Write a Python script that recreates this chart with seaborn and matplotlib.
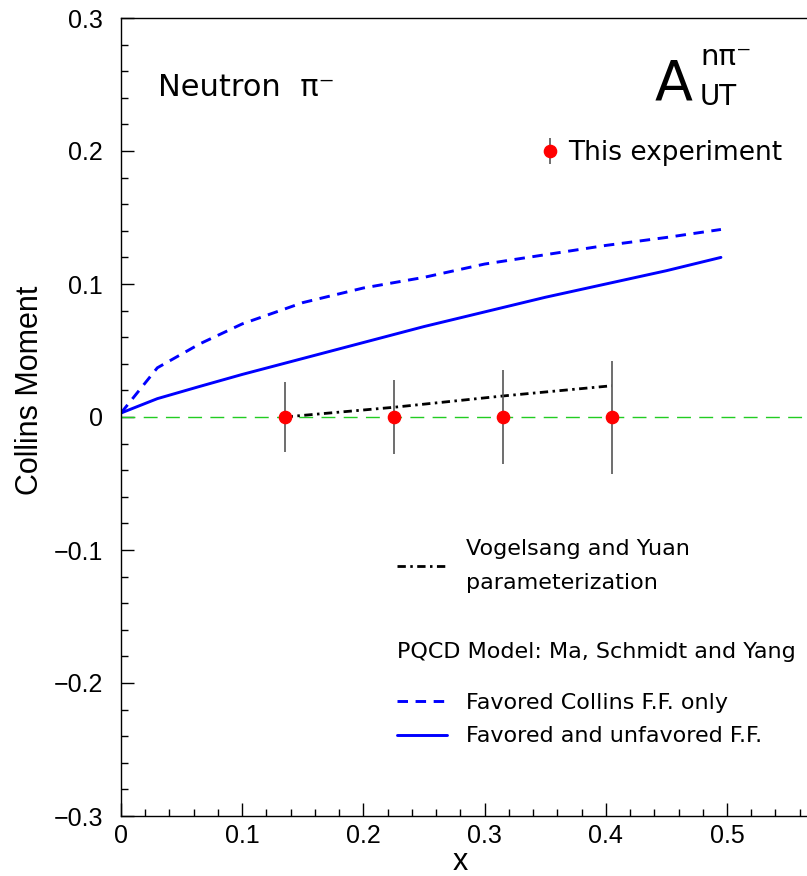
import numpy as np
import pandas as pd
import matplotlib
matplotlib.use('Agg')
import matplotlib.pyplot as plt
from matplotlib.ticker import AutoMinorLocator, FixedLocator, FixedFormatter
import seaborn as sns

# measured points (this experiment)
x_data = [0.135, 0.225, 0.315, 0.405]
y_data = [0.0, 0.0, 0.0, 0.0]
err_lo = [0.026, 0.028, 0.035, 0.043]
err_hi = [0.026, 0.028, 0.035, 0.042]

# Vogelsang and Yuan parameterization
x_vy = [0.135, 0.225, 0.315, 0.405]
y_vy = [0.0, 0.0073, 0.0158, 0.0235]

# PQCD model curves
x_model = [0.0, 0.03, 0.065, 0.1, 0.15, 0.2, 0.25, 0.3, 0.35, 0.4, 0.45, 0.495]
y_favored = [0.003, 0.037, 0.055, 0.070, 0.086, 0.097, 0.105, 0.115, 0.122, 0.129, 0.135, 0.141]
y_fav_unfav = [0.003, 0.0138, 0.023, 0.032, 0.044, 0.056, 0.068, 0.079, 0.090, 0.100, 0.110, 0.120]

y_ticks = [-0.3, -0.2, -0.1, 0, 0.1, 0.2, 0.3]
y_labels = ['\u22120.3', '\u22120.2', '\u22120.1', '0', '0.1', '0.2', '0.3']
x_ticks = [0, 0.1, 0.2, 0.3, 0.4, 0.5]
x_labels = ['0', '0.1', '0.2', '0.3', '0.4', '0.5']

sns.set_theme(style='ticks')
plt.rcParams['font.family'] = ['DejaVu Sans']
plt.rcParams['text.color'] = 'black'
plt.rcParams['axes.labelcolor'] = 'black'
plt.rcParams['xtick.color'] = 'black'
plt.rcParams['ytick.color'] = 'black'

df_model = pd.DataFrame({'x': x_model, 'fav': y_favored, 'both': y_fav_unfav})
df_vy = pd.DataFrame({'x': x_vy, 'y': y_vy})

fig = plt.figure(figsize=(8.07, 8.76), dpi=100)
ax = fig.add_axes([121 / 807, 1 - 816 / 876, 686 / 807, 798 / 876])

ax.axhline(0, color='#22cc22', lw=1.0, ls=(0, (10, 6)), zorder=1)

sns.lineplot(data=df_model, x='x', y='fav', ax=ax, color='#0000ff', lw=2.1,
             linestyle=(0, (3.6, 2.6)), estimator=None, sort=False, zorder=2)
sns.lineplot(data=df_model, x='x', y='both', ax=ax, color='#0000ff', lw=2.1,
             estimator=None, sort=False, zorder=2)
sns.lineplot(data=df_vy, x='x', y='y', ax=ax, color='black', lw=2.0,
             linestyle=(0, (3.0, 1.6, 0.9, 1.6)), estimator=None, sort=False, zorder=3)
line_fav, line_both, line_vy = ax.lines[1], ax.lines[2], ax.lines[3]

eb = ax.errorbar(x_data, y_data, yerr=[err_lo, err_hi], fmt='o', color='red',
                 ecolor='#555555', elinewidth=1.2, ms=8.8, capsize=0, zorder=4)

ax.set_xlim(0, 0.566)
ax.set_ylim(-0.3, 0.3)
ax.xaxis.set_major_locator(FixedLocator(x_ticks))
ax.xaxis.set_major_formatter(FixedFormatter(x_labels))
ax.yaxis.set_major_locator(FixedLocator(y_ticks))
ax.yaxis.set_major_formatter(FixedFormatter(y_labels))
ax.xaxis.set_minor_locator(AutoMinorLocator(5))
ax.yaxis.set_minor_locator(AutoMinorLocator(5))
ax.tick_params(which='both', direction='in', color='black', width=1, top=False, right=False)
ax.tick_params(which='major', length=9.5)
ax.tick_params(which='minor', length=5)
ax.tick_params(axis='y', pad=13)
ax.tick_params(axis='x', pad=6)
for lab in ax.get_xticklabels() + ax.get_yticklabels():
    lab.set_fontfamily('Liberation Sans')
    lab.set_fontsize(18)
    lab.set_color('black')
ax.spines['right'].set_visible(False)
for s in ['left', 'bottom', 'top']:
    ax.spines[s].set_color('black')
    ax.spines[s].set_linewidth(1.0)

ax.set_ylabel('Collins Moment', fontsize=22, family='Liberation Sans', va='center')
ax.yaxis.set_label_coords(-0.133, 0.534)
ax.set_xlabel('x', fontsize=22, family='Liberation Sans', va='center')
ax.xaxis.set_label_coords(0.494, -0.058)

# annotations
fig.text(158 / 807, 1 - 96 / 876, 'Neutron  \u03c0\u207b', fontsize=22, va='baseline')
fig.text(655 / 807, 1 - 100 / 876, 'A', fontsize=40, va='baseline')
fig.text(700 / 807, 1 - 65 / 876, 'n\u03c0\u207b', fontsize=21, va='baseline')
fig.text(700 / 807, 1 - 105 / 876, 'UT', fontsize=20, va='baseline')

leg1 = fig.legend([eb], ['This experiment'], loc='center left',
                  bbox_to_anchor=(539 / 807, 1 - 153 / 876), frameon=False,
                  fontsize=19, handlelength=0.8, handletextpad=0.3,
                  borderpad=0, borderaxespad=0)
leg2 = fig.legend([line_vy], ['Vogelsang and Yuan\nparameterization'], loc='center left',
                  bbox_to_anchor=(397 / 807, 1 - 566 / 876), frameon=False,
                  fontsize=16, handlelength=2.25, handletextpad=0.85,
                  borderpad=0, borderaxespad=0)
for t in leg2.get_texts():
    t.set_linespacing(1.85)
fig.text(397 / 807, 1 - 652 / 876, 'PQCD Model: Ma, Schmidt and Yang', fontsize=16, va='center')
leg3 = fig.legend([line_fav, line_both], ['Favored Collins F.F. only', 'Favored and unfavored F.F.'],
                  loc='center left', bbox_to_anchor=(397 / 807, 1 - 719.5 / 876), frameon=False,
                  fontsize=16, handlelength=2.25, handletextpad=0.85, labelspacing=0.62,
                  borderpad=0, borderaxespad=0)

fig.savefig('out.png', dpi=100)
